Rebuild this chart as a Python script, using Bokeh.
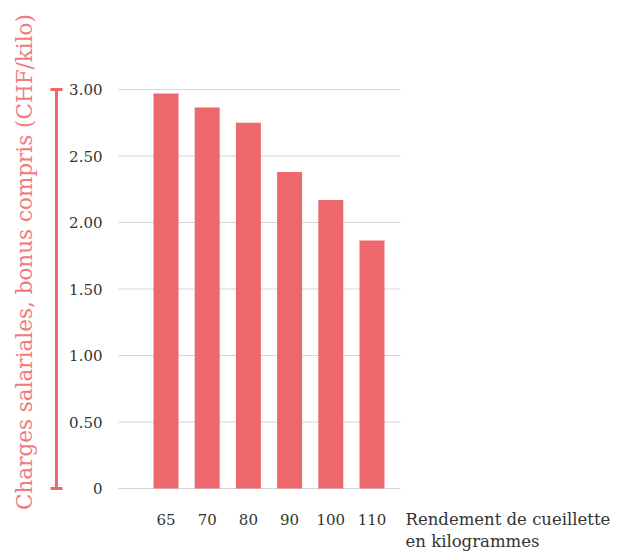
import math
from bokeh.plotting import figure
from bokeh.models import (Range1d, Label, Whisker, TeeHead, ColumnDataSource)
from bokeh.core.properties import value
from bokeh.embed import file_html
from bokeh.resources import INLINE

# ---- data ----
categories = ["65", "70", "80", "90", "100", "110"]
charges = [2.97, 2.865, 2.75, 2.38, 2.17, 1.865]
y_ticks = [0, 0.5, 1.0, 1.5, 2.0, 2.5, 3.0]
y_tick_labels = ["0", "0.50", "1.00", "1.50", "2.00", "2.50", "3.00"]
y_title = "Charges salariales, bonus compris (CHF/kilo)"
x_title_1 = "Rendement de cueillette"
x_title_2 = "en kilogrammes"

BAR = "#EC686D"
TITLE_C = "#F07A7F"
TXT = "#333333"
GRID = "#D6D6D6"
FONT = "DejaVu Serif"

W, H = 617, 551
# layout in pixels -> data transforms (x: 41.2 px per category, y: 133 px per unit)
PX_X, X0 = 41.2, 165.5
PX_Y, Y0 = 133.0, 488.0
def dx(px):
    return (px - X0) / PX_X
def dy(py):
    return (Y0 - py) / PX_Y

xs = list(range(len(categories)))
src = ColumnDataSource(dict(x=xs, top=charges))

p = figure(width=W, height=H, output_backend="svg", toolbar_location=None,
           x_range=Range1d(dx(0), dx(W)), y_range=Range1d(dy(H), dy(0)),
           min_border=0)
p.outline_line_color = None
p.background_fill_color = "white"
p.border_fill_color = "white"
p.xaxis.visible = False
p.yaxis.visible = False
p.grid.visible = False

# horizontal grid lines over the plot region only
gsrc = ColumnDataSource(dict(y=y_ticks, x0=[dx(118)] * len(y_ticks),
                             x1=[dx(400)] * len(y_ticks)))
p.segment(x0="x0", x1="x1", y0="y", y1="y", source=gsrc,
          line_color=GRID, line_width=1)

p.vbar(x="x", top="top", bottom=0, width=25 / PX_X, source=src,
       fill_color=BAR, line_color=None)

# y tick labels
ysrc = ColumnDataSource(dict(y=y_ticks, t=y_tick_labels,
                             x=[dx(102)] * len(y_ticks)))
p.text(x="x", y="y", text="t", source=ysrc, text_align="right",
       text_baseline="middle", text_font=value(FONT),
       text_font_size="15px", text_color=TXT)

# x tick labels
xsrc = ColumnDataSource(dict(x=xs, t=categories, y=[dy(519)] * len(xs)))
p.text(x="x", y="y", text="t", source=xsrc, text_align="center",
       text_baseline="middle", text_font=value(FONT),
       text_font_size="15px", text_color=TXT)

# x title (two lines)
p.add_layout(Label(x=dx(405), y=dy(519), text=x_title_1, text_align="left",
                   text_baseline="middle", text_font=FONT,
                   text_font_size="16.5px", text_color=TXT))
p.add_layout(Label(x=dx(405), y=dy(541), text=x_title_2, text_align="left",
                   text_baseline="middle", text_font=FONT,
                   text_font_size="16.5px", text_color=TXT))

# red bracket
wsrc = ColumnDataSource(dict(base=[dx(56)], lower=[y_ticks[0]], upper=[y_ticks[-1]]))
p.add_layout(Whisker(base="base", lower="lower", upper="upper", source=wsrc,
                     dimension="height", line_color=BAR, line_width=3,
                     upper_head=TeeHead(size=12, line_color=BAR, line_width=3),
                     lower_head=TeeHead(size=12, line_color=BAR, line_width=3)))

# rotated y title
p.add_layout(Label(x=dx(24), y=dy(261.5), text=y_title, angle=math.pi / 2,
                   text_align="center", text_baseline="middle",
                   text_font=FONT, text_font_size="21.5px",
                   text_color=TITLE_C))

open("out.html", "w").write(file_html(p, INLINE))
